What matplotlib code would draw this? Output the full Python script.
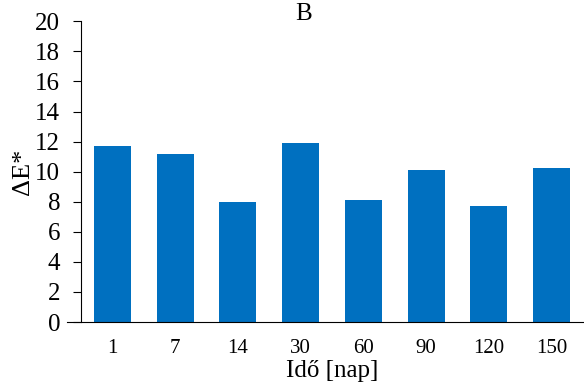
import numpy as np
import matplotlib.pyplot as plt

plt.rcParams['font.family'] = ['Liberation Serif', 'DejaVu Serif']

# values
days = ["1", "7", "14", "30", "60", "90", "120", "150"]
delta_e = [11.7, 11.15, 8.0, 11.9, 8.1, 10.1, 7.7, 10.25]

fig, ax = plt.subplots(figsize=(5.84, 3.88), dpi=100)
fig.subplots_adjust(left=0.139, right=0.998, bottom=0.17, top=0.945)

x = np.arange(len(days))
ax.bar(x, delta_e, width=0.59, color="#0070C0")

ax.set_xlim(-0.5, len(days) - 0.5)
ax.set_ylim(0, 20)
ax.set_yticks(np.arange(0, 21, 2))
ax.set_xticks(x)
ax.set_xticklabels(days, fontsize=15)
ax.tick_params(axis="x", length=0, pad=12)
ax.tick_params(axis="y", labelsize=18, length=6, pad=9)

ax.spines["top"].set_visible(False)
ax.spines["right"].set_visible(False)
ax.spines["bottom"].set_bounds(-0.72, len(days) - 0.5)

ax.set_xlabel("Idő [nap]", fontsize=18, labelpad=2)
ax.set_ylabel("ΔE*", fontsize=19, labelpad=1)
ax.set_title("B", fontsize=18, x=0.444, y=1.006, pad=0)

fig.savefig("out.png")
